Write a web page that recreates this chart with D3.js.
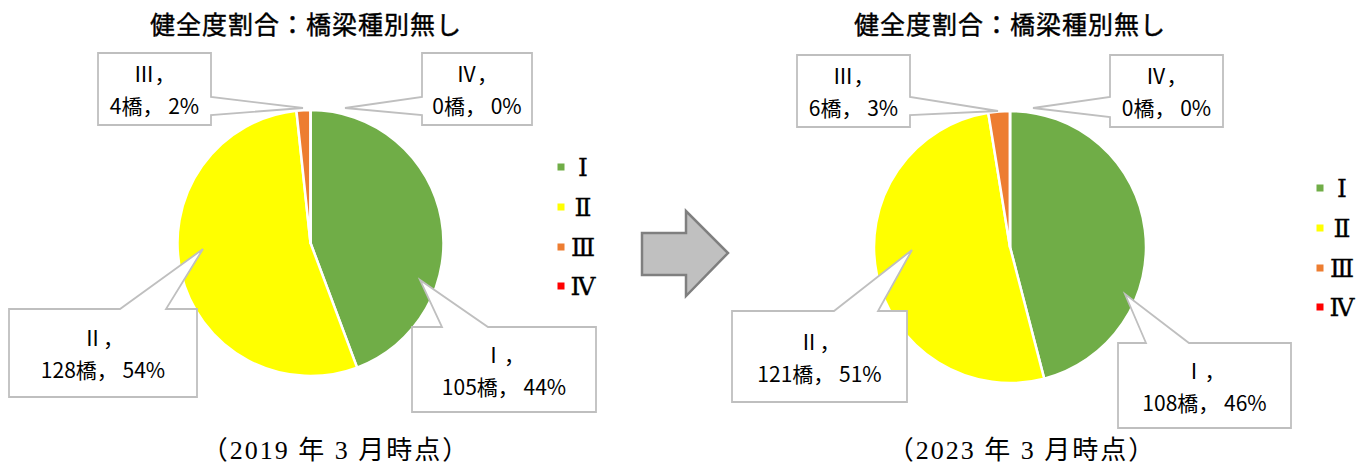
<!DOCTYPE html>
<html>
<head>
<meta charset="utf-8">
<script src="https://cdn.jsdelivr.net/npm/d3@7"></script>
<style>
  body { margin: 0; background: #fff; }
  svg { display: block; }
</style>
</head>
<body>
<div id="chart"></div>
<script>
// Data
var grades = ["Ⅰ", "Ⅱ", "Ⅲ", "Ⅳ"];
var counts2019 = [105, 128, 4, 0];
var counts2023 = [108, 121, 6, 0];
var pct2019 = ["44%", "54%", "2%", "0%"];
var pct2023 = ["46%", "51%", "3%", "0%"];
var chartTitle = "健全度割合：橋梁種別無し";
var footer2019 = "（2019 年 3 月時点）";
var footer2023 = "（2023 年 3 月時点）";

var colors = ["#70ad47", "#ffff00", "#ed7d31", "#ff0000"];

var width = 1368, height = 463;

var svg = d3.select("#chart")
  .append("svg")
  .attr("width", width)
  .attr("height", height);

// layout of the two panels (callout boxes and pointer tips)
var panels = [
  {
    counts: counts2019, pct: pct2019, footer: footer2019,
    cx: 310.5, cy: 243, r: 133, titleX: 306, footX: 336,
    legendX: 561, legendLabelX: 583, legendY: [167, 207, 247, 286],
    callouts: [
      { box: [412, 327, 184, 85], side: "top", base: [442, 488], tip: [420, 280] },
      { box: [9, 309, 188, 88], side: "top", base: [120, 166], tip: [203, 249] },
      { box: [98, 53, 113, 72], side: "right", base: [97, 115], tip: [303, 108] },
      { box: [422, 53, 110, 72], side: "left", base: [97, 115], tip: [345, 108] }
    ]
  },
  {
    counts: counts2023, pct: pct2023, footer: footer2023,
    cx: 1010, cy: 247, r: 136, titleX: 1010, footX: 1022,
    legendX: 1320, legendLabelX: 1342, legendY: [188, 228, 268, 307],
    callouts: [
      { box: [1118, 343, 173, 85], side: "top", base: [1146, 1189], tip: [1125, 294] },
      { box: [732, 311, 175, 91], side: "top", base: [834, 878], tip: [912, 250] },
      { box: [797, 55, 113, 72], side: "right", base: [97, 115], tip: [998, 111] },
      { box: [1110, 55, 113, 72], side: "left", base: [97, 117], tip: [1033, 108] }
    ]
  }
];

var pie = d3.pie().sort(null).value(function(d) { return d; });

// callout shape: rectangle with a wedge pointing at the slice
function calloutPath(c) {
  var x = c.box[0], y = c.box[1], w = c.box[2], h = c.box[3];
  var t = c.tip, b = c.base;
  var p = "M" + x + "," + y;
  if (c.side == "top") {
    p += "L" + b[0] + "," + y + "L" + t[0] + "," + t[1] + "L" + b[1] + "," + y;
  }
  p += "L" + (x + w) + "," + y;
  if (c.side == "right") {
    p += "L" + (x + w) + "," + b[0] + "L" + t[0] + "," + t[1] + "L" + (x + w) + "," + b[1];
  }
  p += "L" + (x + w) + "," + (y + h) + "L" + x + "," + (y + h);
  if (c.side == "left") {
    p += "L" + x + "," + b[1] + "L" + t[0] + "," + t[1] + "L" + x + "," + b[0];
  }
  return p + "Z";
}

panels.forEach(function(p) {
  var arc = d3.arc().innerRadius(0).outerRadius(p.r);

  // title
  svg.append("text")
    .attr("x", p.titleX)
    .attr("y", 23)
    .attr("text-anchor", "middle")
    .attr("dominant-baseline", "central")
    .style("font-family", "'Noto Sans CJK JP'")
    .style("font-size", "25px")
    .style("letter-spacing", "1px")
    .attr("fill", "#000")
    .attr("stroke", "#000")
    .attr("stroke-width", 0.4)
    .text(chartTitle);

  // pie slices
  var g = svg.append("g")
    .attr("transform", "translate(" + p.cx + "," + p.cy + ")");

  g.selectAll("path")
    .data(pie(p.counts))
    .enter()
    .append("path")
    .attr("d", arc)
    .attr("fill", function(d, i) { return colors[i]; })
    .attr("stroke", "#fff")
    .attr("stroke-width", 2.5)
    .attr("stroke-linejoin", "round");

  // callouts
  p.callouts.forEach(function(c, i) {
    svg.append("path")
      .attr("d", calloutPath(c))
      .attr("fill", "#fff")
      .attr("stroke", "#bfbfbf")
      .attr("stroke-width", 1.8);

    var mx = c.box[0] + c.box[2] / 2;
    var my = c.box[1] + c.box[3] / 2;
    var lines = [grades[i] + "，", p.counts[i] + "橋， " + p.pct[i]];
    lines.forEach(function(l, j) {
      svg.append("text")
        .attr("x", mx)
        .attr("y", my + (j == 0 ? -16 : 16))
        .attr("text-anchor", "middle")
        .attr("dominant-baseline", "central")
        .style("font-family", "'Noto Sans CJK JP'")
        .style("font-size", "21px")
        .attr("fill", "#000")
        .text(l);
    });
  });

  // legend
  grades.forEach(function(gr, i) {
    svg.append("rect")
      .attr("x", p.legendX - 3.5)
      .attr("y", p.legendY[i] - 3.5)
      .attr("width", 7)
      .attr("height", 7)
      .attr("fill", colors[i]);
    svg.append("text")
      .attr("x", p.legendLabelX)
      .attr("y", p.legendY[i])
      .attr("text-anchor", "middle")
      .attr("dominant-baseline", "central")
      .style("font-family", "'DejaVu Serif', 'Liberation Serif', serif")
      .style("font-size", "25px")
      .attr("fill", "#000")
      .attr("stroke", "#000")
      .attr("stroke-width", 0.3)
      .text(gr);
  });

  // footer
  svg.append("text")
    .attr("x", p.footX)
    .attr("y", 450)
    .attr("text-anchor", "middle")
    .attr("dominant-baseline", "central")
    .style("font-family", "'Liberation Serif', 'Noto Sans CJK JP', serif")
    .style("font-size", "26px")
    .style("letter-spacing", "2px")
    .attr("fill", "#000")
    .text(p.footer);
});

// arrow between the two panels
var arrowPts = [[642, 233], [686, 233], [686, 211], [728, 253], [686, 296], [686, 275], [642, 275]];
svg.append("path")
  .attr("d", d3.line()(arrowPts) + "Z")
  .attr("fill", "#c0c0c0")
  .attr("stroke", "#7f7f7f")
  .attr("stroke-width", 2.5);
</script>
</body>
</html>
